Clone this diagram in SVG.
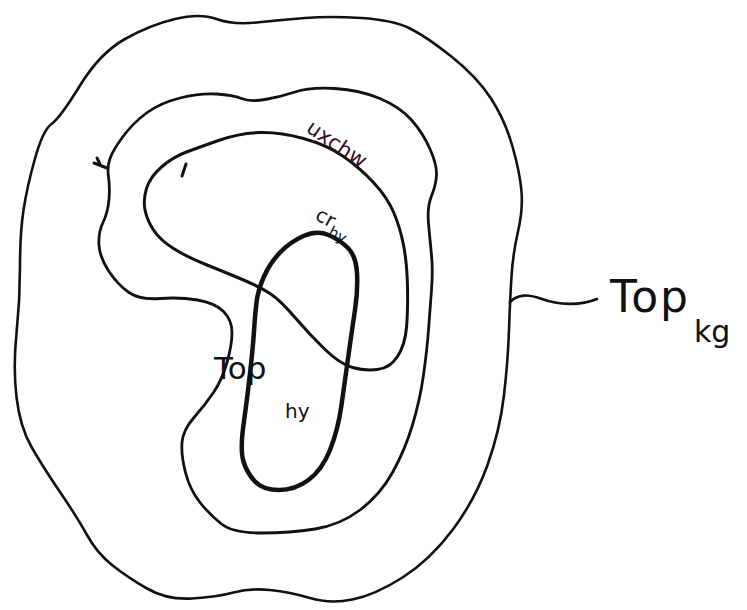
<svg xmlns="http://www.w3.org/2000/svg" width="747" height="610" viewBox="0 0 747 610">
<style>
.curve{fill:none;stroke:#111;stroke-linecap:round;stroke-linejoin:round}
.lbl{font-family:"DejaVu Sans","Liberation Sans",sans-serif;fill:#111}
.pur{fill:#3a0c28}
</style>
<rect width="747" height="610" fill="#fff"/>
<g id="outer">
<path class="curve" stroke-width="2.6" d="M125,39 Q150,25 175,19 Q200,13 216.5,19 Q233,25 256.5,22.5 Q280,20 305,18 Q330,16 361.5,18 Q393,20 410,28.5 Q427,37 452,57 Q477,77 491,98.5 Q505,120 512.5,146.5 Q520,173 521.5,191.5 Q523,210 518,231.5 Q513,253 511.5,276.5 Q510,300 509,330 Q508,360 504,395 Q500,430 487.5,465 Q475,500 452.5,530 Q430,560 402.5,577.5 Q375,595 352.5,599.5 Q330,604 310,598 Q290,592 270,590 Q250,588 233.5,592.5 Q217,597 192,598.5 Q167,600 147,588.5 Q127,577 112,565 Q97,553 87,535 Q77,517 60,492 Q43,467 31.5,447 Q20,427 16.5,397 Q13,367 16.5,333.5 Q20,300 20,266.5 Q20,233 23.5,210 Q27,187 35,158.5 Q43,130 51.5,124 Q60,118 80,85.5 Q100,53 125,39 Z"/>
</g>
<g id="middle">
<path class="curve" stroke="#1e0814" stroke-width="2.8" d="M123,136.5 Q133,123 146.5,113 Q160,103 180,98 Q200,93 216.5,94 Q233,95 241.5,98.5 Q250,102 265,99.5 Q280,97 295,92 Q310,87 335,88.5 Q360,90 380,98.5 Q400,107 411.5,120 Q423,133 430,149 Q437,165 436.5,175 Q436,185 431.5,196 Q427,207 428.5,223.5 Q430,240 431.5,255 Q433,270 431.5,290 Q430,310 428.5,330 Q427,350 423.5,375 Q420,400 412.5,425 Q405,450 392.5,472.5 Q380,495 360,510 Q340,525 315,529 Q290,533 261.5,533 Q233,533 221.5,524 Q210,515 200,502.5 Q190,490 185.5,472.5 Q181,455 182,442.5 Q183,430 194,417.5 Q205,405 213.5,392.5 Q222,380 227,362.5 Q232,345 232,332.5 Q232,320 223.5,311.5 Q215,303 197.5,300 Q180,297 160,298.5 Q140,300 129,292.5 Q118,285 109,271.5 Q100,258 99,245.5 Q98,233 103,222.5 Q108,212 109,199.5 Q110,187 108.5,177 Q107,167 110,158.5 Q113,150 123,136.5 Z"/>
<path class="curve" stroke="#3a0c28" stroke-width="3" d="M94,163 L107,168 M97,158 L100,164"/>
</g>
<g id="bean">
<path class="curve" stroke-width="3" d="M161.5,167 Q173,157 186.5,152 Q200,147 220,140 Q240,133 260,132.5 Q280,132 303.5,138.5 Q327,145 343.5,156.5 Q360,168 373.5,182.5 Q387,197 393.5,212 Q400,227 403.5,245 Q407,263 407.5,286.5 Q408,310 406.5,327.5 Q405,345 397.5,356.5 Q390,368 377.5,369.5 Q365,371 352.5,367.5 Q340,364 325,349.5 Q310,335 295,317.5 Q280,300 270,293.5 Q260,287 243.5,280 Q227,273 207,265 Q187,257 173.5,248.5 Q160,240 153.5,230 Q147,220 145,210 Q143,200 146.5,188.5 Q150,177 161.5,167 Z"/>
<path class="curve" stroke-width="3" d="M186,164 L182,176"/>
<text class="lbl pur" font-size="21" transform="translate(305,131) rotate(34)">uxchw</text>
</g>
<g id="inner">
<path class="curve" stroke-width="4.5" d="M264,276.5 Q270,263 280,252.5 Q290,242 303.5,236 Q317,230 328.5,235 Q340,240 348,248 Q356,256 357,273 Q358,290 355,310 Q352,330 348.5,355 Q345,380 341.5,405 Q338,430 330,450 Q322,470 308.5,480 Q295,490 279,490 Q263,490 255,481.5 Q247,473 243.5,461.5 Q240,450 243.5,425 Q247,400 250,373.5 Q253,347 254,331 Q255,315 256.5,302.5 Q258,290 264,276.5 Z"/>
<text class="lbl" font-size="20" transform="translate(314,219) rotate(28)">cr<tspan font-size="15" dy="8">hy</tspan></text>
<text class="lbl" font-size="31" x="214" y="379">Top</text>
<text class="lbl" font-size="20" x="285" y="418">hy</text>
</g>
<g id="label-top-kg">
<text class="lbl" font-size="44" x="610" y="312" textLength="78">Top</text>
<text class="lbl" font-size="30" x="694" y="342">kg</text>
</g>
<g id="connectors">
<path class="curve" stroke-width="2.6" d="M510,302 C518,294 528,294 542,299 C558,305 580,306 597,299"/>
</g>
</svg>
